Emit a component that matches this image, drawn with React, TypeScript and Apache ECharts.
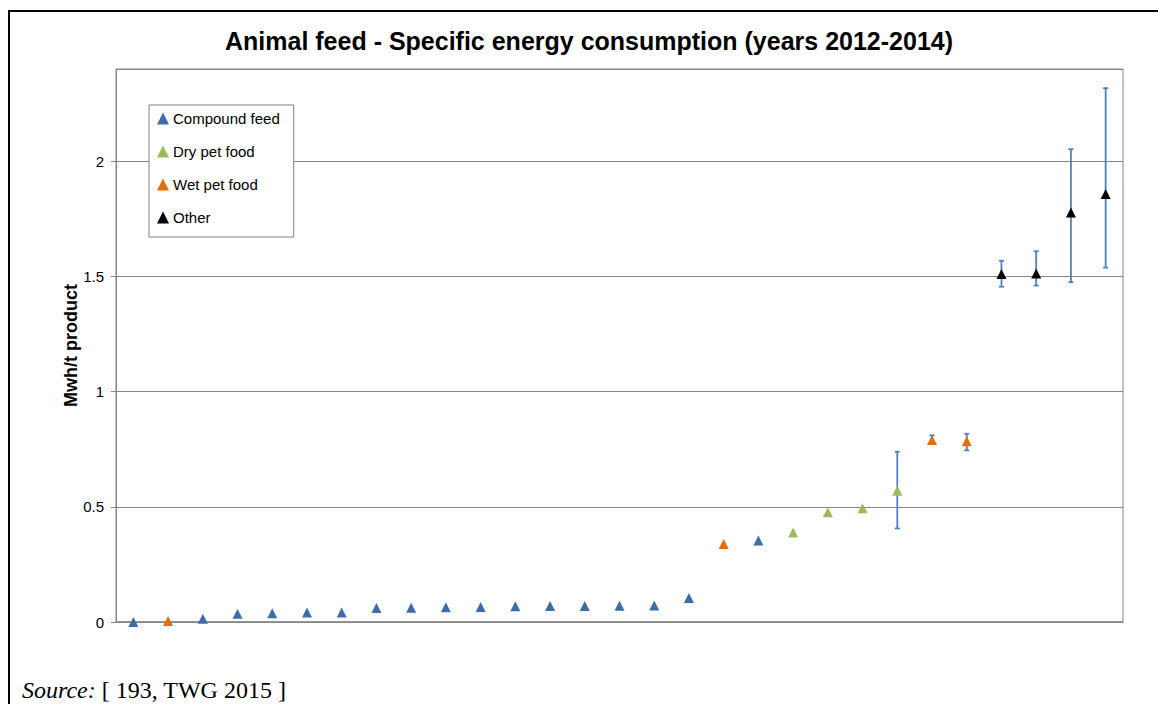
import React, { useEffect, useRef } from "react";
import * as echarts from "echarts";

const categories: string[] = Array.from({ length: 29 }, (_, i) => String(i + 1));

// [category index, value]
const compoundFeed: [number, number][] = [
  [0, 0.0], [2, 0.014], [3, 0.036], [4, 0.038], [5, 0.041], [6, 0.041],
  [7, 0.061], [8, 0.062], [9, 0.064], [10, 0.065], [11, 0.068], [12, 0.069],
  [13, 0.069], [14, 0.07], [15, 0.072], [16, 0.104], [18, 0.354],
];
const dryPetFood: [number, number][] = [[19, 0.388], [20, 0.476], [21, 0.494], [22, 0.57]];
const wetPetFood: [number, number][] = [[1, 0.004], [17, 0.338], [23, 0.79], [24, 0.784]];
const other: [number, number][] = [[25, 1.51], [26, 1.513], [27, 1.777], [28, 1.858]];

// [category index, low, high]
const errorBars: [number, number, number][] = [
  [22, 0.406, 0.739],
  [23, 0.775, 0.81],
  [24, 0.745, 0.817],
  [25, 1.455, 1.568],
  [26, 1.46, 1.609],
  [27, 1.475, 2.052],
  [28, 1.538, 2.317],
];

const yTicks = { min: 0, max: 2.4, interval: 0.5 };

const FONT = "'Liberation Sans', Arial, sans-serif";
const SERIF = "'Liberation Serif', 'Times New Roman', serif";

export default function App() {
  const ref = useRef<HTMLDivElement>(null);
  useEffect(() => {
    if (!ref.current) return;
    const chart = echarts.init(ref.current, null, { renderer: "svg" });
    const scatterBase = {
      type: "scatter" as const,
      symbol: "triangle",
      symbolSize: 10,
      z: 3,
    };
    chart.setOption({
      animation: false,
      backgroundColor: "#fff",
      title: {
        text: "Animal feed - Specific energy consumption (years 2012-2014)",
        left: 584,
        top: 23,
        textAlign: "center",
        textStyle: { fontFamily: FONT, fontSize: 25, fontWeight: "bold", color: "#000" },
      },
      legend: {
        orient: "vertical",
        left: 149,
        top: 105,
        backgroundColor: "#fff",
        borderColor: "#808080",
        borderWidth: 1,
        padding: [6, 14, 12, 8],
        itemGap: 18,
        itemWidth: 12,
        itemHeight: 12,
        icon: "triangle",
        textStyle: { fontFamily: FONT, fontSize: 15, color: "#000", padding: [0, 0, 0, -1] },
        data: ["Compound feed", "Dry pet food", "Wet pet food", "Other"],
      },
      grid: {
        left: 116,
        top: 69,
        right: 35,
        bottom: 82,
        show: true,
        borderColor: "#868686",
        borderWidth: 1,
      },
      xAxis: {
        type: "category",
        data: categories,
        boundaryGap: true,
        axisLabel: { show: false },
        axisTick: { show: false },
        axisLine: { lineStyle: { color: "#868686", width: 1.5 } },
      },
      yAxis: {
        type: "value",
        min: yTicks.min,
        max: yTicks.max,
        interval: yTicks.interval,
        name: "Mwh/t product",
        nameLocation: "middle",
        nameGap: 36,
        nameMoveOverlap: false,
        nameTextStyle: { fontFamily: FONT, fontSize: 18, fontWeight: "bold", color: "#000" },
        axisLine: { show: true, lineStyle: { color: "#868686" } },
        axisTick: { show: true, length: 5, lineStyle: { color: "#868686" } },
        axisLabel: {
          fontFamily: FONT,
          fontSize: 15,
          color: "#000",
          margin: 12,
          showMaxLabel: false,
        },
        splitLine: { show: true, lineStyle: { color: "#868686" } },
      },
      series: [
        {
          type: "custom",
          name: "errors",
          z: 2,
          data: errorBars,
          encode: { x: 0, y: [1, 2] },
          renderItem: (params: any, api: any) => {
            const x = api.value(0);
            const lo = api.coord([x, api.value(1)]);
            const hi = api.coord([x, api.value(2)]);
            const w = 2.5;
            const style = { stroke: "#4F81BD", lineWidth: 1.8 };
            return {
              type: "group",
              children: [
                { type: "line", shape: { x1: lo[0], y1: lo[1], x2: hi[0], y2: hi[1] }, style },
                { type: "line", shape: { x1: lo[0] - w, y1: lo[1], x2: lo[0] + w, y2: lo[1] }, style },
                { type: "line", shape: { x1: hi[0] - w, y1: hi[1], x2: hi[0] + w, y2: hi[1] }, style },
              ],
            };
          },
        },
        { ...scatterBase, name: "Compound feed", data: compoundFeed, itemStyle: { color: "#3D6DA8", opacity: 1 } },
        { ...scatterBase, name: "Dry pet food", data: dryPetFood, itemStyle: { color: "#9BBB59", opacity: 1 } },
        { ...scatterBase, name: "Wet pet food", data: wetPetFood, itemStyle: { color: "#E46C0A", opacity: 1 } },
        { ...scatterBase, name: "Other", data: other, itemStyle: { color: "#000", opacity: 1 } },
      ],
      graphic: [
        {
          type: "rect",
          shape: { x: 9, y: 11, width: 1400, height: 1000 },
          style: { fill: "none", stroke: "#000", lineWidth: 2 },
          silent: true,
        },
        {
          type: "text",
          x: 22,
          y: 690,
          style: {
            text: "{i|Source:} [ 193, TWG 2015 ]",
            font: "24px " + SERIF,
            fill: "#000",
            textVerticalAlign: "middle",
            rich: {
              i: { fontStyle: "italic", fontFamily: SERIF, fontSize: 24 },
            },
          },
        },
      ],
    });
    return () => chart.dispose();
  }, []);
  return (
    <div
      ref={ref}
      style={{ position: "absolute", left: 0, top: 0, width: 1158, height: 704 }}
    />
  );
}
